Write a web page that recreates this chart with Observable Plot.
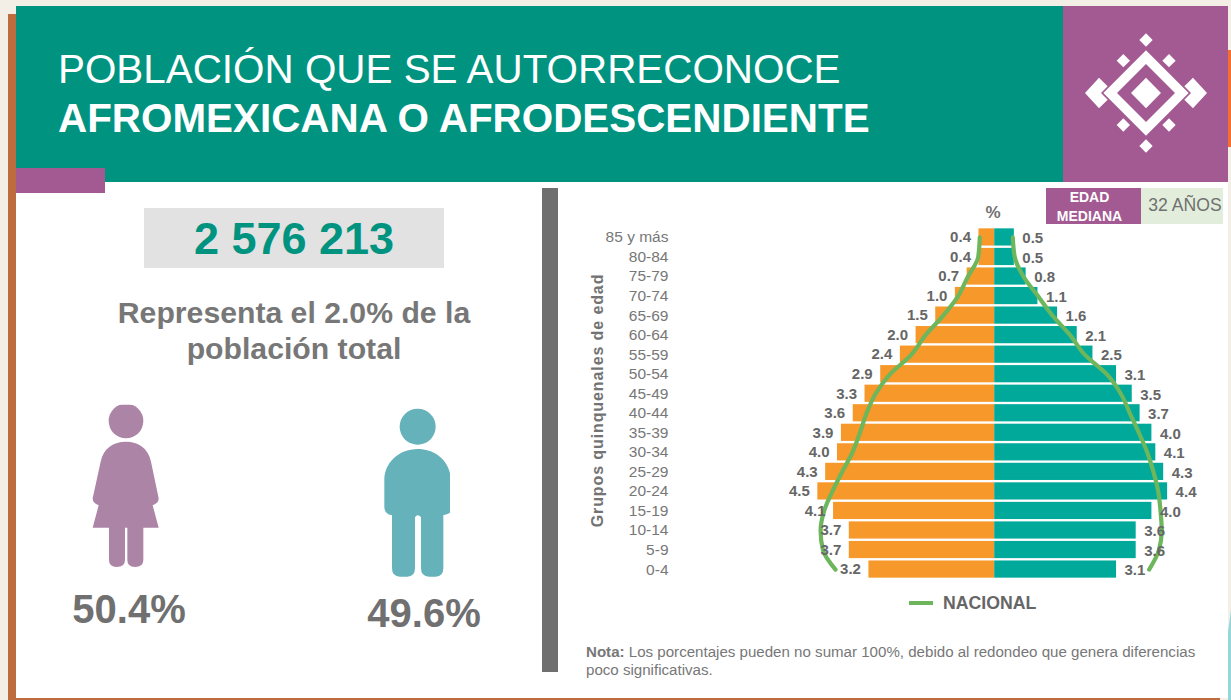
<!DOCTYPE html>
<html lang="es">
<head>
<meta charset="utf-8">
<script src="https://cdn.jsdelivr.net/npm/d3@7"></script>
<script src="https://cdn.jsdelivr.net/npm/@observablehq/plot@0.6"></script>
<style>
html,body{margin:0;padding:0;width:1231px;height:700px;overflow:hidden;background:#f3efe6;font-family:"Liberation Sans",Arial,sans-serif}
.a{position:absolute}
.c{text-align:center}
</style>
</head>
<body>
<div class="a" style="left:8px;top:14px;width:8px;height:686px;background:#bd6b3f"></div>
<div class="a" style="left:8px;top:698px;width:1212px;height:2px;background:#bd6b3f"></div>
<div class="a" style="left:16px;top:182px;width:1212px;height:516px;background:#fff"></div>
<div class="a" style="left:1228px;top:50px;width:3px;height:97px;background:#f46f2f"></div>
<svg class="a" style="left:1228px;top:610px" width="3" height="90"><polygon points="3,0 3,90 0,90 0,22" fill="#97d6d8"/></svg>
<div class="a" style="left:16px;top:6px;width:1047px;height:176px;background:#00937f"></div>
<div class="a" style="left:1063px;top:6px;width:165px;height:176px;background:#a35992"></div>
<div class="a" style="left:16px;top:168px;width:89px;height:25px;background:#a35992"></div>

<div class="a" id="t1" style="left:58px;top:45px;color:#fff;font-size:40.4px;line-height:48px;white-space:nowrap">POBLACIÓN QUE SE AUTORRECONOCE</div>
<div class="a" id="t2" style="left:58px;top:94px;color:#fff;font-size:40.4px;font-weight:bold;line-height:48px;white-space:nowrap">AFROMEXICANA O AFRODESCENDIENTE</div>

<svg class="a" style="left:1040px;top:0" width="191" height="230" viewBox="0 0 573 690" fill="#fff">
  <polygon points="318,233 363,279 318,325 273,279"/>
  <path fill-rule="evenodd" d="M318 151 L446 279 L318 407 L190 279 Z M318 192 L231 279 L318 366 L405 279 Z"/>
  <polygon points="135,279 177,233 203,259 183,279 203,299 177,325"/>
  <polygon points="501,279 459,233 433,259 453,279 433,299 459,325"/>
  <polygon points="318,100 338,120 318,140 298,120"/>
  <polygon points="318,418 338,438 318,458 298,438"/>
  <polygon points="250,162 270,182 250,202 230,182"/>
  <polygon points="387,162 407,182 387,202 367,182"/>
  <polygon points="250,355 270,375 250,395 230,375"/>
  <polygon points="387,355 407,375 387,395 367,375"/>
</svg>

<div class="a c" style="left:144px;top:208px;width:300px;height:60px;line-height:61px;background:#e2e2e2;color:#00937f;font-size:45px;font-weight:bold">2 576 213</div>
<div class="a c" style="left:69px;top:295px;width:450px;color:#777;font-size:30.2px;font-weight:bold;line-height:36px">Representa el 2.0% de la<br>población total</div>

<svg class="a" style="left:0;top:390px" width="500" height="310" viewBox="0 0 1500 930">
  <defs><clipPath id="hc"><rect x="300" y="44" width="160" height="120"/></clipPath></defs>
  <g fill="#ac84a6">
    <circle cx="378" cy="93" r="52" clip-path="url(#hc)"/>
    <path d="M378 155 C340 155 310 175 302 215 L278 325 Q278 340 296 346 L278 413 L327 413 L327 510 Q327 531 350 531 Q375 531 375 510 L375 413 L382 413 L382 510 Q382 531 405 531 Q430 531 430 510 L430 413 L476 413 L458 346 Q476 340 476 325 L453 215 C445 175 415 155 378 155Z"/>
  </g>
  <g fill="#66b2bb">
    <circle cx="1253" cy="110" r="54"/>
    <path d="M1253 177 C1195 177 1153 220 1153 270 L1153 350 Q1153 372 1176 376 L1176 535 Q1176 560 1200 560 L1222 560 Q1245 560 1245 535 L1245 382 Q1253 370 1263 382 L1263 535 Q1263 560 1287 560 L1307 560 Q1330 560 1330 535 L1330 376 Q1345 372 1350 368 L1350 250 C1340 205 1300 177 1253 177Z"/>
  </g>
</svg>
<div class="a c" style="left:29px;top:586px;width:200px;color:#707070;font-size:40px;font-weight:bold;line-height:46px">50.4%</div>
<div class="a c" style="left:324px;top:590px;width:200px;color:#707070;font-size:40px;font-weight:bold;line-height:46px">49.6%</div>

<div class="a" style="left:542px;top:188px;width:16px;height:484px;background:#6f6f6f"></div>

<div class="a" style="left:1046px;top:188px;width:95px;height:36px;background:#a35992"></div>
<div class="a" style="left:1141px;top:188px;width:82px;height:36px;background:#e2eedb"></div>
<div class="a c" style="left:1042px;top:188px;width:95px;height:36px;color:#fff;font-size:14px;font-weight:bold;line-height:19px">EDAD<br>MEDIANA</div>
<div class="a c" style="left:1144px;top:188px;width:82px;height:36px;color:#707070;font-size:17.6px;line-height:35px">32 AÑOS</div>
<div class="a c" style="left:973px;top:204px;width:40px;color:#707070;font-size:17px;font-weight:bold;line-height:18px">%</div>

<div class="a" id="chart" style="left:560px;top:200px"></div>

<div class="a" style="left:909px;top:601px;width:24px;height:4px;background:#6db65b"></div>
<div class="a" style="left:943px;top:594px;color:#666;font-size:17.7px;font-weight:bold;line-height:18px">NACIONAL</div>

<div class="a" style="left:586px;top:643px;width:640px;color:#777;font-size:15.1px;line-height:18px;white-space:nowrap"><b>Nota:</b> <span>Los porcentajes pueden no sumar 100%, debido al redondeo que genera diferencias</span><br><span>poco significativas.</span></div>

<script>
const ages = ["85 y más","80-84","75-79","70-74","65-69","60-64","55-59","50-54","45-49","40-44","35-39","30-34","25-29","20-24","15-19","10-14","5-9","0-4"];
const mujeres = [0.4,0.4,0.7,1.0,1.5,2.0,2.4,2.9,3.3,3.6,3.9,4.0,4.3,4.5,4.1,3.7,3.7,3.2];
const hombres = [0.5,0.5,0.8,1.1,1.6,2.1,2.5,3.1,3.5,3.7,4.0,4.1,4.3,4.4,4.0,3.6,3.6,3.1];
const nacionalMujeres = [0.38,0.42,0.68,0.93,1.31,1.76,2.12,2.66,3.03,3.26,3.43,3.62,3.88,4.13,4.34,4.43,4.37,4.05];
const nacionalHombres = [0.46,0.51,0.73,1.10,1.47,1.92,2.29,2.85,3.21,3.44,3.67,3.88,4.04,4.16,4.22,4.25,4.18,3.93];

const rows = ages.map((age,i)=>({age, m:-mujeres[i], h:hombres[i], nm:-nacionalMujeres[i], nh:nacionalHombres[i]}));
const gray = "#666";
const plot = Plot.plot({
  width:660, height:390,
  marginLeft:108, marginRight:29.3, marginTop:26, marginBottom:10,
  style:{background:"transparent", fontFamily:'"Liberation Sans",Arial,sans-serif'},
  x:{domain:[-8.3,5], axis:null},
  y:{domain:ages, padding:0.12, round:false, label:null},
  marks:[
    Plot.barX(rows,{x:"m", y:"age", fill:"#f6982a"}),
    Plot.barX(rows,{x:"h", y:"age", fill:"#00a99a"}),
    Plot.line(rows,{x:"nm", y:"age", stroke:"#6db65b", strokeWidth:4.2, curve:"monotone-y"}),
    Plot.line(rows,{x:"nh", y:"age", stroke:"#6db65b", strokeWidth:4.2, curve:"monotone-y"}),
    Plot.text(rows,{x:"m", y:"age", text:d=>(-d.m).toFixed(1), textAnchor:"end", dx:-8, fill:gray, fontWeight:"bold", fontSize:15}),
    Plot.text(rows,{x:"h", y:"age", text:d=>d.h.toFixed(1), textAnchor:"start", dx:8, dy:1, fill:gray, fontWeight:"bold", fontSize:15}),
    Plot.axisY({tickSize:0, tickPadding:0, label:null, fontSize:15.5, color:"#777"}),
    Plot.text(["Grupos quinquenales de edad"],{frameAnchor:"left", textAnchor:"middle", rotate:-90, dx:-71, dy:-3, fontWeight:"bold", fontSize:16, fill:"#737373"})
  ]
});
d3.select(plot).selectAll("text").filter(function(){return this.textContent==="Grupos quinquenales de edad";}).style("letter-spacing","0.9px");
document.getElementById("chart").appendChild(plot);
</script>
</body>
</html>
